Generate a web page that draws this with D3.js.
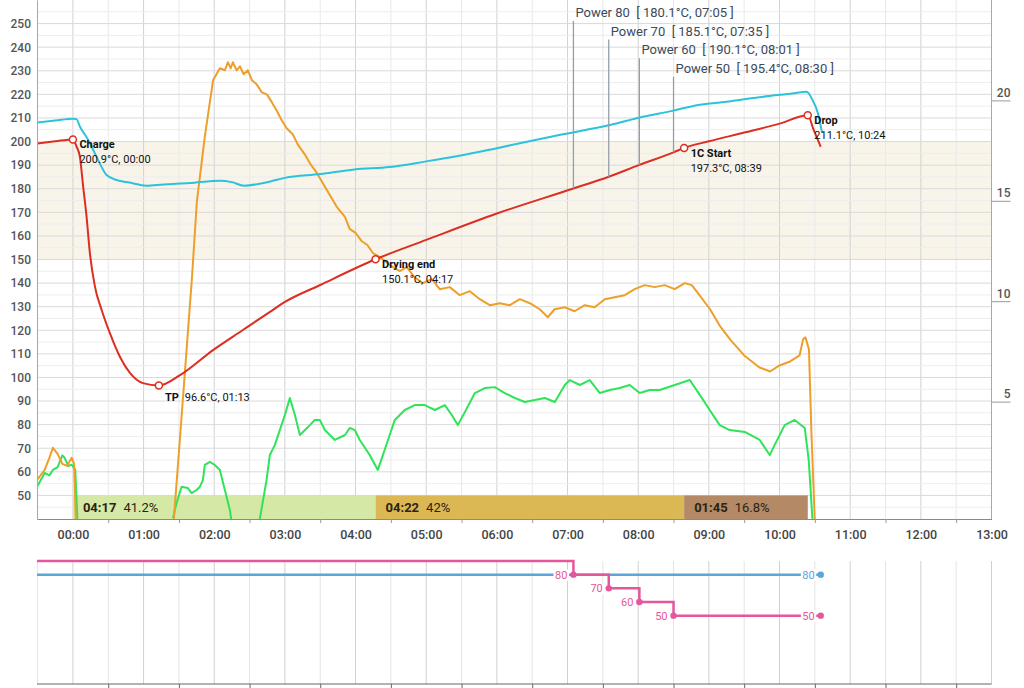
<!DOCTYPE html>
<html><head><meta charset="utf-8">
<script src="https://cdn.jsdelivr.net/npm/d3@7"></script>
<style>
html,body{margin:0;padding:0;background:#fff;}
svg{display:block;font-family:Roboto,"Noto Sans",sans-serif;}
</style></head><body>
<svg id="c" width="1024" height="688"></svg>
<script>
// ---------------- data ----------------
const minuteTicks = d3.range(0, 14);            // x tick labels in minutes
const leftTicks = d3.range(50, 251, 10);        // left axis
const rightTicks = [5, 10, 15, 20];             // right axis

// Bean temperature [seconds, °C]
const btData = [[-30,199.2],[-15,200.1],[0,200.9],[3,198],[5.9,193.6],[8.7,180.9],[11.6,168.1],[14.4,152.7],[18.7,138.5],[24.4,128.6],[31.4,118.8],[40,108.7],[48.4,101.9],[59.4,97.6],[73,96.6],[91,101],[119,111.6],[144,120],[167,127.7],[180,132],[210,139.2],[257,150.1],[300,158.3],[360,169.5],[425,180.1],[455,185.1],[481,190.1],[510,195.4],[519,197.3],[540,200.1],[570,203.8],[600,207.6],[624,211.1],[629,204.9],[635,197.8]];
// Environment temperature [seconds, °C]
const etData = [[-30,208.1],[-15,208.9],[0,209.7],[3,209.5],[6,206.3],[13,200.7],[20,193.6],[28.6,185.8],[37,183.7],[48,182.6],[62.5,181.3],[76.7,181.8],[99,182.4],[125,183.4],[135,182.8],[145,181.3],[167,183],[180,184.6],[210,186.2],[239,188.2],[269,189.2],[300,191.6],[328,194],[360,197.2],[413,202.8],[456,207],[484,210.5],[509,213],[526,215],[555,216.9],[583,218.8],[611,220.4],[623,221.1],[628,217.6],[632.6,212],[636,204]];
// Rate of rise (right axis) [seconds, °C/min]; null = gap
const rorData = [[-30.5,1.1],[-24,1.6],[-20,2.2],[-17,2.7],[-13,2.4],[-9,1.9],[-5,1.8],[-1,2.2],[1,1.9],[3,-2],[40,null],
 [85.5,-1],[90.8,3.1],[95.9,7.1],[101,11.1],[105.3,15],[112,18.2],[119,21],[124.8,21.6],[129,21.5],[131.6,21.9],[134,21.6],[135.8,21.9],[139,21.5],[141.8,21.7],[145,21.3],[148.6,21.5],[152,21],[156,20.8],[160.4,20.4],[164.7,20.3],[169,19.9],[173,19.5],[177.4,19],[181.7,18.6],[186.8,18.3],[191,17.8],[197,17.3],[202,16.8],[207,16.4],[212,15.9],[218,15.3],[224,14.7],[231,14.2],[235,13.6],[240,13.4],[245,13],[250,12.8],[254.7,12.4],[260.6,12.2],
 [269,11.8],[277.6,11.5],[283.5,11.7],[290,11.2],[297,10.9],[304.8,11.1],[311.5,10.6],[320,10.7],[328.5,10.3],[337,10.5],[345.5,10.1],[354,9.8],[362.5,9.9],[371,9.8],[379.5,10.1],[388,9.9],[396.4,9.6],[403.2,9.2],[409,9.6],[417.7,9.7],[426,9.5],[434.6,9.8],[443,9.7],[451.6,10.1],[460,10.2],[468.6,10.3],[477,10.6],[485.6,10.8],[494,10.7],[502.5,10.8],[511,10.6],[519.5,10.9],[525.5,10.8],
 [532,10.3],[541,9.6],[549,8.8],[558,8.1],[570,7.3],[583,6.7],[592,6.5],[600,6.8],[609,7],[617,7.3],[620,8.1],[622,8.2],[625,7.6],[627,3.6],[630,-1]];
// Green trace (left axis units)
const greenData = [[-30.5,53.6],[-24,59.5],[-20,58.5],[-17,60.8],[-13,62],[-9,67],[-7,65.9],[-4,62.5],[-1,63],[2,60.8],[4,38],[40,null],[85,40.4],[88,46.8],[92.3,53.7],[97.6,53.1],[100.8,51],[105,52.3],[107.8,53.7],[110.4,56.5],[112,62.9],[116.3,64.2],[120.5,62.9],[124.8,60.8],[129,52.3],[133.3,43.8],[135,38],[145,null],[158.7,40],[164.4,56.5],[167.2,67.1],[171.5,71.4],[175.7,77.7],[180,84.1],[184.2,91.3],[188.5,84.1],[192.7,75.6],[197,77.7],[201.2,79.8],[205.4,82],[209.7,82],[213.9,77.7],[222.4,73.5],[231,75.6],[235.1,78.6],[239.4,77.7],[243.6,73.5],[252,67.1],[258.9,60.8],[263.2,67.1],[269,75.6],[273.3,82],[281.8,86.2],[290.3,88.3],[298.8,88.3],[307.3,86.2],[315.8,88.3],[321.7,84.1],[326.8,79.8],[332.8,85.3],[341.3,93.4],[349.7,95.5],[358.2,95.9],[366.7,93.4],[375.2,91.3],[383.7,89.6],[392.2,90.4],[400.7,91.3],[409.2,89.6],[417.7,96.8],[421.9,98.9],[430.4,96.8],[438.9,98.9],[447.4,93.4],[455.9,94.7],[464.4,95.5],[472.8,96.8],[481.3,93.4],[489.8,94.7],[498.3,94.7],[511,96.8],[523.8,98.9],[532.3,92.6],[540.7,86.2],[549.2,79.8],[557.7,77.7],[570.5,76.9],[583.2,73.5],[591.7,67.1],[595.9,71.4],[604.4,79.8],[612.9,82],[621.4,78.6],[624.8,65],[628.2,38]];

// Events
const eventNames = ["Charge", "TP", "Drying end", "1C Start", "Drop"];
const eventTimes = [0, 73, 257, 519, 624];
const eventTemps = [200.9, 96.6, 150.1, 197.3, 211.1];

// Phases
const phaseStarts = [0, 257, 519];
const phaseEnds = [257, 519, 624];
const phasePcts = ["41.2%", "42%", "16.8%"];

// Power changes
const powerTimes = [425, 455, 481, 510];
const powerLevels = [80, 70, 60, 50];
const powerBT = [180.1, 185.1, 190.1, 195.4];
const powerStart = 90;
const fanLevel = 80;
const controlEnd = 635;

// ---------------- styles ----------------
const C = {bt:"#dc2e21", et:"#2cc3da", ror:"#ee9f2a", green:"#2fe35a",
  band:"#f8f4ea", phase:["#d5e8a6","#dbb854","#b38966"],
  power:"#e4579a", fan:"#5ba6d8", ann:"#939eab"};

// ---------------- scales ----------------
const svg = d3.select("#c");
const x = d3.scaleLinear().domain([-30.5, 780]).range([37, 991.5]);
const y = d3.scaleLinear().domain([40, 260]).range([519, 0]);
const yR = d3.scaleLinear().domain([0, 25]).range([502, 0]);
const yP = d3.scaleLinear().domain([0, 90]).range([684, 561]);
const fmt = s => { const m = Math.floor(s/60), ss = Math.round(s - m*60); return d3.format("02d")(m) + ":" + d3.format("02d")(ss); };

svg.append("defs").append("clipPath").attr("id","clip").append("rect")
  .attr("x", x(-30.5)).attr("y", 0).attr("width", x(780)-x(-30.5)).attr("height", y(40));

// band
svg.append("rect").attr("x", x(-30.5)).attr("width", x(780)-x(-30.5))
  .attr("y", y(200)).attr("height", y(150)-y(200)).attr("fill", C.band);

// grid
const grid = svg.append("g");
const halfMin = d3.range(-30, 781, 30);
grid.selectAll(".v").data(halfMin).join("line")
  .attr("x1", d=>x(d)).attr("x2", d=>x(d)).attr("y1", 0).attr("y2", y(40))
  .attr("stroke", d => d % 60 === 0 ? "#d2d2d2" : "#e9e9e9").attr("stroke-width", 1);
grid.selectAll(".h").data(d3.range(45, 260, 5)).join("line")
  .attr("x1", x(-30.5)).attr("x2", x(780)).attr("y1", d=>y(d)).attr("y2", d=>y(d))
  .attr("stroke", d => d % 10 === 0 ? "#dadada" : "#ededed").attr("stroke-width", 1);

// phases
const ph = svg.append("g");
phaseStarts.forEach((s, i) => {
  ph.append("rect").attr("x", x(s)).attr("y", y(50)).attr("width", x(phaseEnds[i]) - x(s))
    .attr("height", y(40) - y(50)).attr("fill", C.phase[i]);
  const t = ph.append("text").attr("x", x(s) + 10).attr("y", y(45) + 4.5)
    .attr("font-size", 13).attr("fill", "#2a2415");
  t.append("tspan").attr("font-weight", "bold").text(fmt(phaseEnds[i] - s));
  t.append("tspan").attr("dx", 7).text(phasePcts[i]);
});

// curves
const lines = svg.append("g").attr("clip-path", "url(#clip)");
const lineL = d3.line().defined(d => d[1] !== null).x(d => x(d[0])).y(d => y(d[1]));
const lineR = d3.line().defined(d => d[1] !== null).x(d => x(d[0])).y(d => yR(d[1]));
const smooth = d3.line().x(d => x(d[0])).y(d => y(d[1])).curve(d3.curveMonotoneX);
lines.append("path").attr("d", lineL(greenData)).attr("fill","none").attr("stroke", C.green).attr("stroke-width", 2).attr("stroke-linejoin","round");
lines.append("path").attr("d", lineR(rorData)).attr("fill","none").attr("stroke", C.ror).attr("stroke-width", 2).attr("stroke-linejoin","round");
lines.append("path").attr("d", smooth(etData)).attr("fill","none").attr("stroke", C.et).attr("stroke-width", 2);
lines.append("path").attr("d", smooth(btData)).attr("fill","none").attr("stroke", C.bt).attr("stroke-width", 2);

// axes
const axL = svg.append("g").attr("transform", `translate(${x(-30.5)},0)`)
  .call(d3.axisLeft(y).tickValues(leftTicks).tickSize(0).tickPadding(6));
axL.select(".domain").attr("stroke", "#a8a8a8");
axL.selectAll("text").attr("font-size", 12).attr("font-weight", 500).attr("fill", "#555").attr("font-family","Roboto");

const axB = svg.append("g").attr("transform", `translate(0,${y(40)})`)
  .call(d3.axisBottom(x).tickValues(minuteTicks.map(m => m*60)).tickSize(0).tickPadding(11)
    .tickFormat(d => d3.format("02d")(d/60) + ":00"));
axB.select(".domain").attr("stroke", "#8a8a8a");
axB.selectAll("text").attr("font-size", 12.5).attr("font-weight", 500).attr("fill", "#444").attr("font-family","Roboto");
const axBm = svg.append("g").attr("transform", `translate(0,${y(40)})`)
  .call(d3.axisBottom(x).tickValues(d3.range(30, 780, 60)).tickSize(4).tickFormat(""));
axBm.select(".domain").remove();
axBm.selectAll("line").attr("stroke", "#999");

const axR = svg.append("g").attr("transform", `translate(${x(780)},0)`)
  .call(d3.axisRight(yR).tickValues(rightTicks).tickSize(19).tickPadding(0));
axR.select(".domain").attr("d", `M0,0V${y(40)}`).attr("stroke", "#a8a8a8");
axR.selectAll("line").attr("stroke", "#999");
axR.selectAll("text").attr("x", 19).attr("dy", "-0.35em").attr("text-anchor", "end")
  .attr("font-size", 12).attr("font-weight", 500).attr("fill", "#555").attr("font-family","Roboto");

// power annotations
const ann = svg.append("g");
powerTimes.forEach((t, i) => {
  const top = 21 + i * 18.6;
  ann.append("line").attr("x1", x(t)).attr("x2", x(t)).attr("y1", top).attr("y2", y(powerBT[i]))
    .attr("stroke", C.ann).attr("stroke-width", 1.3);
  ann.append("text").attr("x", x(t) + 2).attr("y", top - 4).attr("font-size", 13).attr("fill", "#3c4a5b")
    .attr("xml:space","preserve").style("white-space","pre")
    .text(`Power ${powerLevels[i]}  [ ${powerBT[i].toFixed(1)}°C, ${fmt(t)} ]`);
});

// event markers + labels
const ev = svg.append("g");
eventNames.forEach((n, i) => {
  const cx = x(eventTimes[i]), cy = y(eventTemps[i]);
  ev.append("circle").attr("cx", cx).attr("cy", cy).attr("r", 3.5).attr("fill", "#fff")
    .attr("stroke", C.bt).attr("stroke-width", 1.5);
  const val = `${eventTemps[i].toFixed(1)}°C, ${fmt(eventTimes[i])}`;
  if (n === "TP") {
    const t = ev.append("text").attr("x", cx + 6).attr("y", cy + 15.5).attr("font-size", 11).attr("fill", "#111");
    t.append("tspan").attr("font-weight", "bold").text(n);
    t.append("tspan").attr("dx", 6).text(val);
  } else {
    ev.append("text").attr("x", cx + 6.5).attr("y", cy + 9).attr("font-size", 11).attr("font-weight", "bold").attr("fill", "#111").text(n);
    ev.append("text").attr("x", cx + 6.5).attr("y", cy + 24).attr("font-size", 11).attr("fill", "#111").text(val);
  }
});

// ---------------- bottom control panel ----------------
const bp = svg.append("g");
bp.selectAll(".bv").data(halfMin).join("line")
  .attr("x1", d=>x(d)).attr("x2", d=>x(d)).attr("y1", yP(90)).attr("y2", yP(0))
  .attr("stroke", d => d % 60 === 0 ? "#d0d0d0" : "#e4e4e4");
const axP = bp.append("g").attr("transform", `translate(0,${yP(0)})`)
  .call(d3.axisBottom(x).tickValues(d3.range(30, 780, 60)).tickSize(4).tickFormat(""));
axP.select(".domain").attr("d", `M${x(-30.5)},0H${x(780)}`).attr("stroke", "#666");
axP.selectAll("line").attr("stroke", "#666");

// fan line
const stepLine = d3.line().x(d => x(d[0])).y(d => yP(d[1])).curve(d3.curveStepAfter);
const fanPts = [[-30.5, fanLevel], [controlEnd, fanLevel]];
bp.append("path").attr("d", stepLine(fanPts)).attr("fill","none").attr("stroke", C.fan).attr("stroke-width", 2.5);
// power step line
const powPts = [[-30.5, powerStart]].concat(powerTimes.map((t,i) => [t, powerLevels[i]])).concat([[controlEnd, powerLevels[powerLevels.length-1]]]);
bp.append("path").attr("d", stepLine(powPts)).attr("fill","none").attr("stroke", C.power).attr("stroke-width", 2.5);

function tag(px, py, txt, col) {
  const t = bp.append("text").attr("x", px - 6).attr("y", py + 4).attr("text-anchor", "end")
    .attr("font-size", 11).attr("fill", col).text(txt);
  const b = t.node().getBBox();
  bp.insert("rect", () => t.node()).attr("x", b.x - 1.5).attr("y", b.y + 1).attr("width", b.width + 3).attr("height", b.height - 2).attr("fill", "#fff");
}
powerTimes.forEach((t, i) => {
  tag(x(t), yP(powerLevels[i]), String(powerLevels[i]), C.power);
  bp.append("circle").attr("cx", x(t)).attr("cy", yP(powerLevels[i])).attr("r", 3.2).attr("fill", C.power);
});
tag(x(controlEnd), yP(fanLevel), String(fanLevel), C.fan);
bp.append("circle").attr("cx", x(controlEnd)).attr("cy", yP(fanLevel)).attr("r", 3.2).attr("fill", C.fan);
tag(x(controlEnd), yP(powerLevels[3]), String(powerLevels[3]), C.power);
bp.append("circle").attr("cx", x(controlEnd)).attr("cy", yP(powerLevels[3])).attr("r", 3.2).attr("fill", C.power);
</script>
</body></html>
